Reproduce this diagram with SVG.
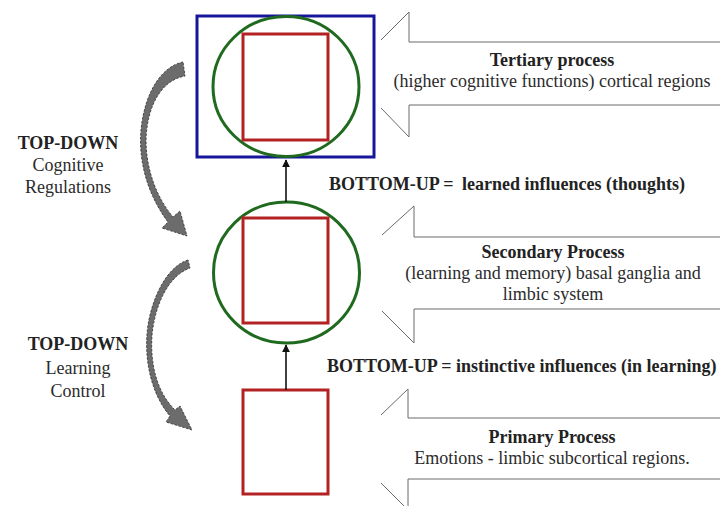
<svg xmlns="http://www.w3.org/2000/svg" width="720" height="506" viewBox="0 0 720 506">
  <defs>
    <style>
      text { font-family: "Liberation Serif", "Times New Roman", serif; font-size: 18px; fill: #2b2b2b; }
      .b { font-weight: bold; fill: #222; }
      .mid { text-anchor: middle; }
      .block { fill: none; stroke: #6a6a6a; stroke-width: 1; }
      .sq { fill: none; stroke: #b32222; stroke-width: 3; }
      .ring { fill: none; stroke: #1f6a1f; stroke-width: 3; }
      .frame { fill: none; stroke: #16169a; stroke-width: 3; }
      .curl { fill: #6c6c6c; stroke: #3c3c3c; stroke-width: 0.9; stroke-dasharray: 2.5 1.5; }
      .link { stroke: #111; stroke-width: 1.6; fill: none; }
    </style>
    <marker id="head" viewBox="0 0 10 10" refX="9" refY="5" markerWidth="5" markerHeight="5" orient="auto">
      <path d="M0,0 L10,5 L0,10 Z" fill="#111"/>
    </marker>
  </defs>

  <rect width="720" height="506" fill="#fff"/>

  <!-- tertiary level: cortex frame, ring and square -->
  <g id="tertiary-node">
    <rect class="frame" x="197" y="16" width="177" height="141"/>
    <ellipse class="ring" cx="286" cy="86.5" rx="73" ry="70"/>
    <rect class="sq" x="243" y="34" width="85" height="106"/>
  </g>

  <!-- secondary level: ring and square -->
  <g id="secondary-node">
    <ellipse class="ring" cx="286.5" cy="272.5" rx="73" ry="70.5"/>
    <rect class="sq" x="243" y="218" width="85" height="105"/>
  </g>

  <!-- primary level: square -->
  <g id="primary-node">
    <rect class="sq" x="243" y="390" width="85" height="104"/>
  </g>

  <!-- bottom-up links between levels -->
  <g id="connectors">
    <line class="link" x1="286" y1="202" x2="286" y2="160" marker-end="url(#head)"/>
    <line class="link" x1="286" y1="390" x2="286" y2="345" marker-end="url(#head)"/>
  </g>

  <!-- block arrows pointing at each level -->
  <g id="tertiary-arrow">
    <path class="block" d="M381,40 L409,12 L409,42 L720,42"/>
    <path class="block" d="M381,108 L409,137 L409,105 L720,105"/>
    <text class="b mid" x="552" y="66">Tertiary process</text>
    <text class="mid" x="552" y="87">(higher cognitive functions) cortical regions</text>
  </g>

  <g id="secondary-arrow">
    <path class="block" d="M382,235 L414,206 L414,237 L720,237"/>
    <path class="block" d="M382,311 L414,343 L414,309 L720,309"/>
    <text class="b mid" x="553" y="258">Secondary Process</text>
    <text class="mid" x="553" y="279">(learning and memory) basal ganglia and</text>
    <text class="mid" x="553" y="300">limbic system</text>
  </g>

  <g id="primary-arrow">
    <path class="block" d="M381,415 L408,389 L408,418 L720,418"/>
    <path class="block" d="M381,483 L408,510 L408,479 L720,479"/>
    <text class="b mid" x="552" y="443">Primary Process</text>
    <text class="mid" x="552" y="464">Emotions - limbic subcortical regions.</text>
  </g>

  <!-- bottom-up captions -->
  <g id="bottom-up-labels">
    <text class="b" x="329" y="190">BOTTOM-UP = <tspan dx="4">learned influences (thoughts)</tspan></text>
    <text class="b" x="327" y="372">BOTTOM-UP = instinctive influences (in learning)</text>
  </g>

  <!-- top-down curved arrows -->
  <g id="top-down-cognitive">
    <path class="curl" d="M183,62 C163,66 145,90 141,130 C138,165 150,198 168,222 L162,228 L187,236 L180,211 L173,217 C157,198 146,170 146,140 C147,105 162,80 185,76 Z"/>
    <text class="b mid" x="68" y="149">TOP-DOWN</text>
    <text class="mid" x="68" y="171">Cognitive</text>
    <text class="mid" x="68" y="193">Regulations</text>
  </g>

  <g id="top-down-learning">
    <path class="curl" d="M188,260 C168,266 153,295 148,325 C143,360 152,395 170,416 L166,422 L192,430 L180,406 L175,410 C157,392 150,365 152,335 C155,305 168,276 190,268 Z"/>
    <text class="b mid" x="78" y="350">TOP-DOWN</text>
    <text class="mid" x="78" y="374">Learning</text>
    <text class="mid" x="78" y="397">Control</text>
  </g>
</svg>
